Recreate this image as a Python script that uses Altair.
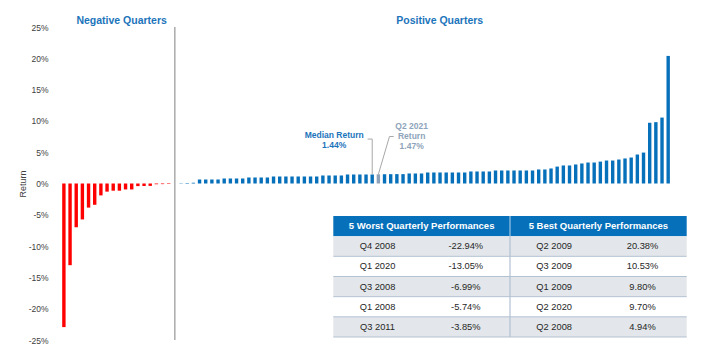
import altair as alt
import pandas as pd

# ---------------- data ----------------
neg_returns = [-22.94, -13.05, -6.99, -5.74, -3.85, -3.40, -1.90, -1.30, -1.15, -1.15,
               -0.95, -0.95, -0.42, -0.40, -0.38, -0.12, -0.10, -0.08]
pos_returns = [0.05, 0.08, 0.12,
               0.64, 0.64, 0.64, 0.64,
               0.80, 0.80, 0.80, 0.80,
               0.96, 0.96, 0.96, 0.96,
               1.12, 1.12, 1.12, 1.12, 1.12, 1.12, 1.12, 1.12,
               1.28, 1.28, 1.28, 1.28,
               1.44, 1.44, 1.44, 1.44, 1.44,
               1.47,
               1.48, 1.49, 1.50, 1.50,
               1.60, 1.60, 1.60,
               1.76, 1.76, 1.76, 1.76, 1.76, 1.76, 1.76,
               1.92, 1.92, 1.92, 1.92,
               2.08, 2.08, 2.08, 2.08, 2.08, 2.08, 2.08,
               2.24, 2.24, 2.40, 2.70, 2.88, 2.88, 3.04, 3.20, 3.35, 3.35,
               3.50, 3.67, 3.67, 3.83, 4.00, 4.15, 4.63, 4.94, 9.70, 9.80, 10.53, 20.38]
median_return = 1.44
q2_2021_return = 1.47

worst_quarters = ["Q4 2008", "Q1 2020", "Q3 2008", "Q1 2008", "Q3 2011"]
worst_returns = [-22.94, -13.05, -6.99, -5.74, -3.85]
best_quarters = ["Q2 2009", "Q3 2009", "Q1 2009", "Q2 2020", "Q2 2008"]
best_returns = [20.38, 10.53, 9.80, 9.70, 4.94]
table_headers = ["5 Worst Quarterly Performances", "5 Best Quarterly Performances"]
y_ticks = [-25, -20, -15, -10, -5, 0, 5, 10, 15, 20, 25]

# ---------------- styling ----------------
FONT = "Liberation Sans"
BLUE = "#0770BA"
RED = "#FF0000"
GRAY_BAR = "#8DA2B8"
TITLE_BLUE = "#1C74BB"
ANNO_GRAY = "#8EA4BA"
LEADER = "#A8A8A8"

W, H = 635, 313

# ---------------- bar table ----------------
rows = []
for i, v in enumerate(neg_returns):
    rows.append({"idx": i, "ret": v, "kind": "neg"})
gap = len(neg_returns)
hl_done = False
for j, v in enumerate(pos_returns):
    kind = "pos"
    if (not hl_done) and v == q2_2021_return:
        kind = "hl"
        hl_done = True
    rows.append({"idx": gap + 1 + j, "ret": v, "kind": kind})
bars_df = pd.DataFrame(rows)
hl_idx = int(bars_df.loc[bars_df.kind == "hl", "idx"].iloc[0])
med_idx = hl_idx - 1

xscale = alt.Scale(domain=[-1.117, 100.24], nice=False, zero=False)
yscale = alt.Scale(domain=[-25, 25], nice=False, zero=False)
y_axis = alt.Axis(values=y_ticks, labelExpr="datum.value + '%'",
                  grid=False, domain=False, ticks=False, labelPadding=4,
                  labelOverlap=False, labelBound=False,
                  labelFont=FONT, labelFontSize=8.5, labelColor="#404040",
                  title="Return", titleFont=FONT, titleFontSize=9,
                  titleFontWeight="normal", titleColor="#404040",
                  titleAngle=-90, titleX=-30, titleY=H / 2,
                  titleAlign="center", titleBaseline="middle")

def X(field):
    return alt.X(field, scale=xscale, axis=None)

def Y(field):
    return alt.Y(field, scale=yscale, axis=y_axis, title="Return")

bars = alt.Chart(bars_df).mark_bar(size=3.4).encode(
    x=X("idx:Q"),
    y=Y("ret:Q"),
    color=alt.Color("kind:N", scale=alt.Scale(domain=["neg", "pos", "hl"],
                                              range=[RED, BLUE, GRAY_BAR]), legend=None),
)

sep = alt.Chart(pd.DataFrame({"idx": [gap]})).mark_rule(color="#7F7F7F", strokeWidth=1).encode(
    x=X("idx:Q"),
    y=alt.value(0), y2=alt.value(H),
)

sections = pd.DataFrame({"label": ["Negative Quarters", "Positive Quarters"],
                         "xpos": [9.37, 60.95]})
section_text = alt.Chart(sections).mark_text(font=FONT, fontSize=10.5, fontWeight="bold",
                                             color=TITLE_BLUE, baseline="alphabetic").encode(
    x=X("xpos:Q"), y=alt.value(-3), text="label:N")

med_df = pd.DataFrame({"label": [f"Median Return\n{median_return:.2f}%"],
                       "xpos": [43.83], "ypos": [7.31]})
med_text = alt.Chart(med_df).mark_text(font=FONT, fontSize=8.5, fontWeight="bold",
                                       lineBreak="\n", lineHeight=10, baseline="alphabetic",
                                       color=TITLE_BLUE).encode(
    x=X("xpos:Q"), y=Y("ypos:Q"), text="label:N")

q2_df = pd.DataFrame({"label": [f"Q2 2021\nReturn\n{q2_2021_return:.2f}%"],
                      "xpos": [56.4], "ypos": [8.74]})
q2_text = alt.Chart(q2_df).mark_text(font=FONT, fontSize=8.5, fontWeight="bold",
                                     lineBreak="\n", lineHeight=10, baseline="alphabetic",
                                     color=ANNO_GRAY).encode(
    x=X("xpos:Q"), y=Y("ypos:Q"), text="label:N")

leader_df = pd.DataFrame({
    "grp": ["m", "m", "m", "q", "q", "q"],
    "ord": [0, 1, 2, 0, 1, 2],
    "lx": [49.25, med_idx, med_idx, 53.49, 52.8, hl_idx],
    "ly": [7.1, 7.1, median_return, 7.51, 7.51, q2_2021_return],
})
leaders = alt.Chart(leader_df).mark_line(color=LEADER, strokeWidth=1).encode(
    x=X("lx:Q"), y=Y("ly:Q"),
    detail="grp:N", order="ord:Q")

main = alt.layer(bars, sep, section_text, med_text, q2_text, leaders)

# ---------------- table (own scales) ----------------
tx = alt.Scale(domain=[0, 4], range=[281.3, 634.7], nice=False, zero=False)
ty = alt.Scale(domain=[0, 6], range=[189, 310], nice=False, zero=False)

def TX(field):
    return alt.X(field, scale=tx, axis=None)

def TY(field):
    return alt.Y(field, scale=ty, axis=None)

cells = [{"x0": 0, "x1": 4, "y0": 0, "y1": 1, "fill": "hdr"}]
for r in range(5):
    cells.append({"x0": 0, "x1": 4, "y0": r + 1, "y1": r + 2,
                  "fill": "shade" if r % 2 == 0 else "plain"})
cells_df = pd.DataFrame(cells)
rects = alt.Chart(cells_df).mark_rect().encode(
    x=TX("x0:Q"), x2="x1:Q",
    y=TY("y0:Q"), y2="y1:Q",
    fill=alt.Fill("fill:N", scale=alt.Scale(domain=["hdr", "shade", "plain"],
                                            range=[BLUE, "#E3E6EA", "#FFFFFF"]), legend=None))

hlines = pd.DataFrame({"a": [0] * 5, "b": [4] * 5, "yy": [2, 3, 4, 5, 6]})
hrule = alt.Chart(hlines).mark_rule(color="#B3C2D2", strokeWidth=1).encode(
    x=TX("a:Q"), x2="b:Q", y=TY("yy:Q"))
vrule_h = alt.Chart(pd.DataFrame({"xx": [2], "a": [0], "b": [1]})).mark_rule(
    strokeWidth=1.2, color="#9CC3E2").encode(
    x=TX("xx:Q"), y=TY("a:Q"), y2="b:Q")
vrule_b = alt.Chart(pd.DataFrame({"xx": [2], "a": [1], "b": [6]})).mark_rule(
    strokeWidth=1.2, color="#B3C2D2").encode(
    x=TX("xx:Q"), y=TY("a:Q"), y2="b:Q")

hdr_df = pd.DataFrame({"t": table_headers, "cx": [1, 3], "cy": [0.5, 0.5]})
hdr_text = alt.Chart(hdr_df).mark_text(font=FONT, fontSize=9.5, fontWeight="bold",
                                       color="white", baseline="middle").encode(
    x=TX("cx:Q"), y=TY("cy:Q"), text="t:N")

tt = []
for r in range(5):
    tt.append({"t": worst_quarters[r], "cx": 0.5, "cy": r + 1.5})
    tt.append({"t": f"{worst_returns[r]:.2f}%", "cx": 1.5, "cy": r + 1.5})
    tt.append({"t": best_quarters[r], "cx": 2.5, "cy": r + 1.5})
    tt.append({"t": f"{best_returns[r]:.2f}%", "cx": 3.5, "cy": r + 1.5})
body_text = alt.Chart(pd.DataFrame(tt)).mark_text(font=FONT, fontSize=9.3, color="#262626",
                                                  baseline="middle").encode(
    x=TX("cx:Q"), y=TY("cy:Q"), text="t:N")

table = alt.layer(rects, hrule, vrule_h, vrule_b, hdr_text, body_text)

chart = alt.layer(main, table).resolve_scale(
    x="independent", y="independent", color="independent", fill="independent"
).properties(
    width=W, height=H, autosize="none",
    padding={"left": 52, "top": 27, "right": 22, "bottom": 14},
    background="white",
).configure_view(stroke=None).configure_axis(labelOverlap=False)

chart.save("out.html", embed_options={"renderer": "svg", "actions": False})
